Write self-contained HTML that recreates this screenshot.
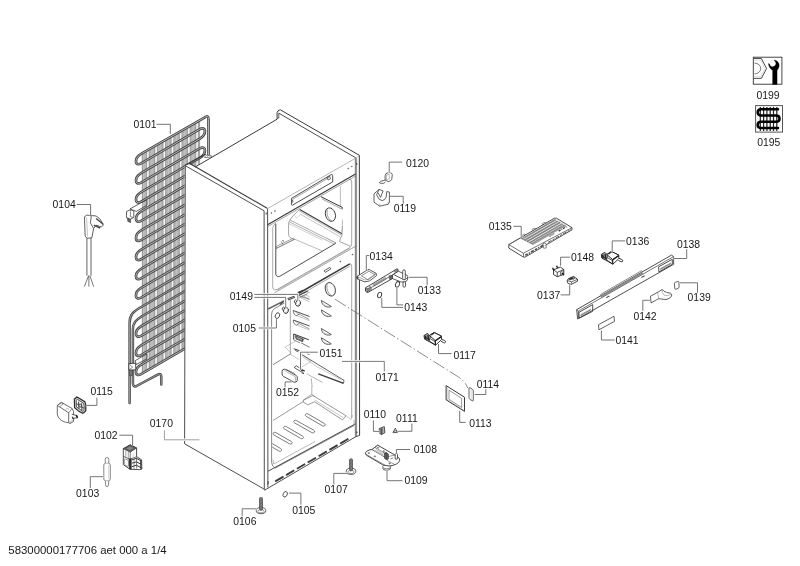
<!DOCTYPE html>
<html><head><meta charset="utf-8"><title>0101</title>
<style>
html,body{margin:0;padding:0;background:#fff;}
svg{display:block;font-family:"Liberation Sans",sans-serif;filter:grayscale(1);}
</style></head><body>
<svg width="800" height="566" viewBox="0 0 800 566">
<rect width="800" height="566" fill="#fff"/>
<g id="condenser">
<path d="M142.3 153.1 L199.6 119.7 L199.6 340.1 L142.3 373.5 Z" fill="#b4b4b4" stroke="#3a3a3a" stroke-width="0" />
<line x1="147.9" y1="148.9" x2="147.9" y2="371.2" stroke="#f8f8f8" stroke-width="2.0"/>
<line x1="156.1" y1="144.1" x2="156.1" y2="366.4" stroke="#f8f8f8" stroke-width="2.0"/>
<line x1="164.3" y1="139.3" x2="164.3" y2="361.6" stroke="#f8f8f8" stroke-width="2.0"/>
<line x1="172.5" y1="134.5" x2="172.5" y2="356.9" stroke="#f8f8f8" stroke-width="2.0"/>
<line x1="180.7" y1="129.7" x2="180.7" y2="352.1" stroke="#f8f8f8" stroke-width="2.0"/>
<line x1="188.9" y1="125.0" x2="188.9" y2="347.3" stroke="#f8f8f8" stroke-width="2.0"/>
<line x1="197.1" y1="120.2" x2="197.1" y2="342.5" stroke="#f8f8f8" stroke-width="2.0"/>
<line x1="143.8" y1="152.3" x2="143.8" y2="372.6" stroke="#c6c6c6" stroke-width="1.0"/>
<line x1="152.0" y1="147.5" x2="152.0" y2="367.8" stroke="#c6c6c6" stroke-width="1.0"/>
<line x1="160.2" y1="142.7" x2="160.2" y2="363.0" stroke="#c6c6c6" stroke-width="1.0"/>
<line x1="168.4" y1="137.9" x2="168.4" y2="358.2" stroke="#c6c6c6" stroke-width="1.0"/>
<line x1="176.6" y1="133.1" x2="176.6" y2="353.5" stroke="#c6c6c6" stroke-width="1.0"/>
<line x1="184.8" y1="128.3" x2="184.8" y2="348.7" stroke="#c6c6c6" stroke-width="1.0"/>
<line x1="193.0" y1="123.6" x2="193.0" y2="343.9" stroke="#c6c6c6" stroke-width="1.0"/>
<line x1="146.7" y1="150.6" x2="146.7" y2="370.9" stroke="#808080" stroke-width="0.5"/>
<line x1="149.2" y1="149.1" x2="149.2" y2="369.5" stroke="#808080" stroke-width="0.5"/>
<line x1="154.8" y1="145.8" x2="154.8" y2="366.1" stroke="#808080" stroke-width="0.5"/>
<line x1="157.3" y1="144.4" x2="157.3" y2="364.7" stroke="#808080" stroke-width="0.5"/>
<line x1="163.0" y1="141.0" x2="163.0" y2="361.4" stroke="#808080" stroke-width="0.5"/>
<line x1="165.5" y1="139.6" x2="165.5" y2="359.9" stroke="#808080" stroke-width="0.5"/>
<line x1="171.2" y1="136.2" x2="171.2" y2="356.6" stroke="#808080" stroke-width="0.5"/>
<line x1="173.7" y1="134.8" x2="173.7" y2="355.1" stroke="#808080" stroke-width="0.5"/>
<line x1="179.4" y1="131.5" x2="179.4" y2="351.8" stroke="#808080" stroke-width="0.5"/>
<line x1="181.9" y1="130.0" x2="181.9" y2="350.3" stroke="#808080" stroke-width="0.5"/>
<line x1="187.6" y1="126.7" x2="187.6" y2="347.0" stroke="#808080" stroke-width="0.5"/>
<line x1="190.1" y1="125.2" x2="190.1" y2="345.6" stroke="#808080" stroke-width="0.5"/>
<line x1="195.8" y1="121.9" x2="195.8" y2="342.2" stroke="#808080" stroke-width="0.5"/>
<line x1="198.3" y1="120.4" x2="198.3" y2="340.8" stroke="#808080" stroke-width="0.5"/>
<line x1="142.3" y1="153.1" x2="142.3" y2="373.5" stroke="#666" stroke-width="0.6"/>
<line x1="199.6" y1="119.7" x2="199.6" y2="340.1" stroke="#777" stroke-width="0.5"/>
<path d="M208.5 154.6 L208.5 119.5 Q208.5 114.2 204.5 117.6 L141.5 153.6 C134.1 157.8 134.1 167.4 141.5 163.2 L199.4 129.4 C206.8 125.2 206.8 134.8 199.4 139.0 L141.5 172.8 C134.1 177.0 134.1 186.5 141.5 182.3 L199.4 148.6 C206.8 144.4 206.8 154.0 199.4 158.2 L141.5 191.9 C134.1 196.1 134.1 205.7 141.5 201.5 L199.4 167.7 C206.8 163.5 206.8 173.1 199.4 177.3 L141.5 211.1 C134.1 215.3 134.1 224.9 141.5 220.7 L199.4 186.9 C206.8 182.7 206.8 192.3 199.4 196.5 L141.5 230.2 C134.1 234.4 134.1 244.0 141.5 239.8 L199.4 206.1 C206.8 201.9 206.8 211.4 199.4 215.6 L141.5 249.4 C134.1 253.6 134.1 263.2 141.5 259.0 L199.4 225.2 C206.8 221.0 206.8 230.6 199.4 234.8 L141.5 268.6 C134.1 272.8 134.1 282.3 141.5 278.1 L199.4 244.4 C206.8 240.2 206.8 249.8 199.4 254.0 L141.5 287.7 C134.1 291.9 134.1 301.5 141.5 297.3 L199.4 263.5 " fill="none" stroke="#484848" stroke-width="2.7" stroke-linecap="round" stroke-linejoin="round"/>
<path d="M208.5 154.6 L208.5 119.5 Q208.5 114.2 204.5 117.6 L141.5 153.6 C134.1 157.8 134.1 167.4 141.5 163.2 L199.4 129.4 C206.8 125.2 206.8 134.8 199.4 139.0 L141.5 172.8 C134.1 177.0 134.1 186.5 141.5 182.3 L199.4 148.6 C206.8 144.4 206.8 154.0 199.4 158.2 L141.5 191.9 C134.1 196.1 134.1 205.7 141.5 201.5 L199.4 167.7 C206.8 163.5 206.8 173.1 199.4 177.3 L141.5 211.1 C134.1 215.3 134.1 224.9 141.5 220.7 L199.4 186.9 C206.8 182.7 206.8 192.3 199.4 196.5 L141.5 230.2 C134.1 234.4 134.1 244.0 141.5 239.8 L199.4 206.1 C206.8 201.9 206.8 211.4 199.4 215.6 L141.5 249.4 C134.1 253.6 134.1 263.2 141.5 259.0 L199.4 225.2 C206.8 221.0 206.8 230.6 199.4 234.8 L141.5 268.6 C134.1 272.8 134.1 282.3 141.5 278.1 L199.4 244.4 C206.8 240.2 206.8 249.8 199.4 254.0 L141.5 287.7 C134.1 291.9 134.1 301.5 141.5 297.3 L199.4 263.5 " fill="none" stroke="#c4c4c4" stroke-width="0.8500000000000001" stroke-linecap="round" stroke-linejoin="round"/>
<path d="M199.4 273.1 L139.5 308.0 C133 312.0 129.6 315.0 129.6 323.0 L129.6 403" fill="none" stroke="#484848" stroke-width="2.5" stroke-linecap="round" stroke-linejoin="round"/>
<path d="M199.4 273.1 L139.5 308.0 C133 312.0 129.6 315.0 129.6 323.0 L129.6 403" fill="none" stroke="#c4c4c4" stroke-width="0.6499999999999999" stroke-linecap="round" stroke-linejoin="round"/>
<path d="M199.4 282.7 L141.5 316.5 C136 320.0 132.9 322.5 132.9 329.5 L132.9 383 Q132.9 387.5 136.5 386 L157.8 374.6 Q161.3 372.8 161.3 377 L161.3 384.5" fill="none" stroke="#484848" stroke-width="2.5" stroke-linecap="round" stroke-linejoin="round"/>
<path d="M199.4 282.7 L141.5 316.5 C136 320.0 132.9 322.5 132.9 329.5 L132.9 383 Q132.9 387.5 136.5 386 L157.8 374.6 Q161.3 372.8 161.3 377 L161.3 384.5" fill="none" stroke="#c4c4c4" stroke-width="0.6499999999999999" stroke-linecap="round" stroke-linejoin="round"/>
<path d="M199.4 292.3 L141.5 326.0 C134.1 330.2 134.1 339.8 141.5 335.6 L199.4 301.9" fill="none" stroke="#484848" stroke-width="2.7" stroke-linecap="round" stroke-linejoin="round"/>
<path d="M199.4 292.3 L141.5 326.0 C134.1 330.2 134.1 339.8 141.5 335.6 L199.4 301.9" fill="none" stroke="#c4c4c4" stroke-width="0.8500000000000001" stroke-linecap="round" stroke-linejoin="round"/>
<path d="M199.4 311.4 L141.5 345.2 C134.1 349.4 134.1 359.0 141.5 354.8 L199.4 321.0" fill="none" stroke="#484848" stroke-width="2.7" stroke-linecap="round" stroke-linejoin="round"/>
<path d="M199.4 311.4 L141.5 345.2 C134.1 349.4 134.1 359.0 141.5 354.8 L199.4 321.0" fill="none" stroke="#c4c4c4" stroke-width="0.8500000000000001" stroke-linecap="round" stroke-linejoin="round"/>
<path d="M199.4 330.6 L141.5 364.4 C134.1 368.6 134.1 378.1 141.5 373.9 L199.4 340.2" fill="none" stroke="#484848" stroke-width="2.7" stroke-linecap="round" stroke-linejoin="round"/>
<path d="M199.4 330.6 L141.5 364.4 C134.1 368.6 134.1 378.1 141.5 373.9 L199.4 340.2" fill="none" stroke="#c4c4c4" stroke-width="0.8500000000000001" stroke-linecap="round" stroke-linejoin="round"/>
<path d="M130.0 208.9 L142.2 202.2 L142.2 207.9 L136.3 211.4 Z" fill="#fff" stroke="#3a3a3a" stroke-width="0" />
<path d="M130.0 208.9 L147.0 199.5 L147.0 205.1 L136.3 211.4 Z" fill="none" stroke="#3a3a3a" stroke-width="0.8" />
<path d="M126.5 211.5 L130.6 209.6 L133.8 211.2 L133.8 217.5 L129.6 219.6 L126.5 217.8 Z" fill="#fff" stroke="#3a3a3a" stroke-width="0.8" />
<path d="M127.6 217.8 L130.6 219.2 L130.6 222.6 L127.8 221.4 Z" fill="#666" stroke="#3a3a3a" stroke-width="0.6" />
<path d="M130.4 209.8 L130.4 216.5 L133.6 217.6" fill="none" stroke="#3a3a3a" stroke-width="0.6" />
<path d="M135.1 360.7 L142.2 356.6 L142.2 361.4 L136.3 364.5 Z" fill="#fff" stroke="#3a3a3a" stroke-width="0" />
<path d="M135.1 360.7 L147.0 353.8 L147.0 358.8 L136.3 364.5 Z" fill="none" stroke="#3a3a3a" stroke-width="0.8" />
<path d="M128.8 363.6 L135.6 363.2 L135.8 369.8 L128.9 370.2 Z" fill="#fff" stroke="#3a3a3a" stroke-width="0.9" />
<path d="M129.2 364.0 L132.6 367.2 L129.2 369.8" fill="none" stroke="#3a3a3a" stroke-width="0.6" />
<path d="M129.5 370.3 L132.4 370.3 L132.4 375.6 L129.5 375.6 Z" fill="#777" stroke="#3a3a3a" stroke-width="0.6" />
</g>
<defs><clipPath id="cl"><rect x="272.2" y="400" width="90" height="70"/></clipPath></defs>
<g id="cabinet">
<path d="M184.7 165.6 L189.9 164.2 L195.2 166.8 L212.0 156.8 L277.1 118.8 L277.1 111.5 L280.0 109.8 L359.4 155.3 L359.6 435.4 L264.6 490.2 L184.6 443.8 Z" fill="#fff" stroke="#3a3a3a" stroke-width="0" />
<path d="M204.3 157.4 L206.4 155.2 L208.6 155.4 L207.4 157.6 Z" fill="#fff" stroke="#3a3a3a" stroke-width="0.6" />
<path d="M208.6 155.4 L211.2 155.4 L212.0 156.8 L207.4 157.6" fill="#fff" stroke="#3a3a3a" stroke-width="0.6" />
<path d="M189.9 164.2 L202.8 157.0" fill="none" stroke="#555" stroke-width="0.7" />
<path d="M185.3 165.7 L264.1 210.8 L264.3 489.2 L184.6 443.8 Z" fill="none" stroke="#3a3a3a" stroke-width="0.9" />
<path d="M189.4 163.2 L267.2 208.3" fill="none" stroke="#3a3a3a" stroke-width="1.1" />
<path d="M184.7 165.5 L205.8 154.0" fill="none" stroke="#3a3a3a" stroke-width="1.1" />
<path d="M195.2 167.0 L277.1 119.2" fill="none" stroke="#3a3a3a" stroke-width="1.0" />
<path d="M277.1 119 L277.1 112.5 Q277.3 110.6 280.3 109.8 L359.35 155.3 L359.6 435.4" fill="none" stroke="#3a3a3a" stroke-width="1.0" />
<path d="M278.8 113.2 L355.9 157.9" fill="none" stroke="#3a3a3a" stroke-width="0.9" />
<path d="M278.8 113.2 L278.8 118.0" fill="none" stroke="#3a3a3a" stroke-width="0.8" />
<path d="M277.1 118.8 L279.0 117.8" fill="none" stroke="#3a3a3a" stroke-width="0.7" />
<line x1="355.9" y1="157.9" x2="355.9" y2="436.4" stroke="#969696" stroke-width="1.7"/>
<line x1="355.2" y1="158.2" x2="355.2" y2="436.4" stroke="#5a5a5a" stroke-width="0.4"/>
<line x1="356.7" y1="158.2" x2="356.7" y2="436.2" stroke="#666" stroke-width="0.4"/>
<path d="M355.9 157.9 L359.2 155.9" fill="none" stroke="#999" stroke-width="0.5" />
<path d="M267.5 208.6 L355.1 158.5" fill="none" stroke="#777" stroke-width="0.55" />
<line x1="267.6" y1="208.6" x2="267.9" y2="487.5" stroke="#3a3a3a" stroke-width="0.9"/>
<path d="M264.3 489.3 L264.6 490.2 L355.9 436.6 L359.6 435.4" fill="none" stroke="#3a3a3a" stroke-width="0.9" />
<path d="M267.6 224.8 L355.5 174.1" fill="none" stroke="#3a3a3a" stroke-width="1.1" />
<path d="M267.6 226.7 L355.5 176.0" fill="none" stroke="#666" stroke-width="0.6" />
<path d="M291.5 198.4 L331.2 174.6 Q332.6 174.2 332.7 175.6 L332.7 181.9 L292.4 205.2 Q291.5 205.4 291.4 204.3 Z" fill="none" stroke="#3a3a3a" stroke-width="0.9" />
<path d="M292.4 199.5 L329.6 177.2" fill="none" stroke="#666" stroke-width="0.6" />
<path d="M326.8 177.4 L329.8 176.4 L330.6 178.8 L328.0 180.0 Z" fill="none" stroke="#3a3a3a" stroke-width="0.7" />
<path d="M291.9 200.2 L293.0 200.8 L293.0 202.2 L291.9 201.8" fill="none" stroke="#3a3a3a" stroke-width="0.7" />
<ellipse cx="271.4" cy="213.0" rx="0.6" ry="0.5" transform="rotate(0 271.4 213.0)" fill="#666" stroke="#666" stroke-width="0.5"/>
<ellipse cx="274.9" cy="211.0" rx="0.6" ry="0.5" transform="rotate(0 274.9 211.0)" fill="#666" stroke="#666" stroke-width="0.5"/>
<ellipse cx="348.2" cy="168.4" rx="0.6" ry="0.5" transform="rotate(0 348.2 168.4)" fill="#666" stroke="#666" stroke-width="0.5"/>
<ellipse cx="351.8" cy="166.4" rx="0.6" ry="0.5" transform="rotate(0 351.8 166.4)" fill="#666" stroke="#666" stroke-width="0.5"/>
<line x1="266.2" y1="212.5" x2="266.2" y2="214.5" stroke="#3a3a3a" stroke-width="1.0"/>
<line x1="356.7" y1="163.0" x2="356.7" y2="164.8" stroke="#3a3a3a" stroke-width="1.1"/>
<path d="M272.7 287 L272.7 228 Q272.8 225.4 275.8 223.4" fill="none" stroke="#777" stroke-width="0.6" />
<path d="M275.8 223.6 L275.8 274.6" fill="none" stroke="#3a3a3a" stroke-width="0.9" />
<path d="M349 179.4 Q351.6 178.8 351.7 182 L351.7 243.5 Q351.6 246.4 349.4 247.9 L277.4 289.3 Q273.4 291.2 272.7 287" fill="none" stroke="#666" stroke-width="0.6" />
<path d="M299.7 209.5 L342.0 233.7" fill="none" stroke="#3a3a3a" stroke-width="1.1" />
<path d="M299.3 211.0 L341.7 235.2" fill="none" stroke="#777" stroke-width="0.5" />
<path d="M299.8 213.9 L340.5 237.0" fill="none" stroke="#888" stroke-width="0.5" />
<path d="M342.0 233.7 L342.1 235.2 L340.5 238.2 L339.5 241.5 L350.0 246.1" fill="none" stroke="#666" stroke-width="0.6" />
<path d="M290.1 220.1 L335.5 242.8" fill="none" stroke="#666" stroke-width="0.55" />
<path d="M289.4 221.9 L334.5 244.3" fill="none" stroke="#777" stroke-width="0.55" />
<path d="M288.9 223.6 L322.4 240.2" fill="none" stroke="#999" stroke-width="0.45" />
<path d="M299.7 209.5 C294 214.5 289 219.5 288.6 224 L288.6 234.5 Q288.8 238.4 294.7 239.2" fill="none" stroke="#666" stroke-width="0.6" />
<path d="M294.2 214.6 L296.4 217.9 L300.2 215.1" fill="none" stroke="#aaa" stroke-width="0.4" />
<path d="M294.7 239.2 L276.0 248.5" fill="none" stroke="#3a3a3a" stroke-width="0.7" />
<path d="M293.4 238.2 L276.8 246.1 L276.0 248.5" fill="none" stroke="#666" stroke-width="0.6" />
<path d="M281.1 241.5 L283.1 244.5" fill="none" stroke="#3a3a3a" stroke-width="0.6" />
<path d="M282.3 240.4 L284.1 241.3" fill="none" stroke="#3a3a3a" stroke-width="0.8" />
<path d="M294.7 239.2 L321.9 250.8" fill="none" stroke="#777" stroke-width="0.5" />
<path d="M335.6 242.6 Q336 243.6 334.6 244 L279.8 276.3 Q276.6 277.4 275.8 274.4" fill="none" stroke="#3a3a3a" stroke-width="0.9" />
<path d="M335.5 242.8 L326.4 237.7" fill="none" stroke="#999" stroke-width="0.4" />
<path d="M321.0 196.7 L342.3 207.4" fill="none" stroke="#3a3a3a" stroke-width="1.0" />
<path d="M322.0 198.9 L341.5 208.9" fill="none" stroke="#666" stroke-width="0.6" />
<path d="M342.3 207.1 L342.3 209.1 L341.5 208.9" fill="none" stroke="#3a3a3a" stroke-width="0.7" />
<path d="M340.4 186.3 L340.4 206.1" fill="none" stroke="#777" stroke-width="0.5" />
<path d="M342.4 219.6 L342.4 233.4" fill="none" stroke="#777" stroke-width="0.5" />
<path d="M340.6 233 Q342.6 230 342.4 226" fill="none" stroke="#777" stroke-width="0.5" />
<ellipse cx="330.4" cy="214.6" rx="4.9" ry="6.9" transform="rotate(-18 330.4 214.6)" fill="none" stroke="#3a3a3a" stroke-width="0.9"/>
<path d="M327.4 209.8 C326.2 213 327.6 218.6 331.6 221" fill="none" stroke="#555" stroke-width="0.6" />
<path d="M274.5 292.8 L355.5 246.3" fill="none" stroke="#666" stroke-width="0.6" />
<path d="M277.1 290.2 L349.8 248.3" fill="none" stroke="#888" stroke-width="0.5" />
<path d="M324.1 270.8 L329.8 267.4 L330.8 268.9 L325.4 272.4 Z" fill="none" stroke="#3a3a3a" stroke-width="0.8" />
<ellipse cx="340.4" cy="261.4" rx="0.6" ry="0.5" transform="rotate(0 340.4 261.4)" fill="#555" stroke="#555" stroke-width="0.4"/>
<ellipse cx="352.6" cy="254.5" rx="0.6" ry="0.5" transform="rotate(0 352.6 254.5)" fill="#555" stroke="#555" stroke-width="0.4"/>
<path d="M298.4 293.5 L349.8 263.9" fill="none" stroke="#3a3a3a" stroke-width="1.5" />
<path d="M299.6 295.3 L349.8 266.2" fill="none" stroke="#666" stroke-width="0.6" />
<path d="M349.8 263.9 Q351.6 263.6 351.7 266 L351.7 418" fill="none" stroke="#666" stroke-width="0.6" />
<path d="M268.1 309.0 L284.0 300.9" fill="none" stroke="#666" stroke-width="1.5" />
<path d="M271.6 462 L271.6 314 Q271.8 310.4 274.4 308.6 L284.4 303" fill="none" stroke="#555" stroke-width="0.7" />
<path d="M290.3 299.3 L290.3 354.2" fill="none" stroke="#666" stroke-width="0.6" />
<path d="M298.5 295.5 L307.6 291.0" fill="none" stroke="#3a3a3a" stroke-width="1.3" />
<path d="M299.3 297.8 L307.6 293.7" fill="none" stroke="#3a3a3a" stroke-width="0.6" />
<path d="M300.0 294.0 L309.1 299.3" fill="none" stroke="#777" stroke-width="0.5" />
<path d="M301.5 292.5 L309.8 297.0" fill="none" stroke="#777" stroke-width="0.5" />
<ellipse cx="330.3" cy="289.3" rx="4.9" ry="6.9" transform="rotate(-18 330.3 289.3)" fill="none" stroke="#3a3a3a" stroke-width="0.9"/>
<path d="M327.3 284.5 C326.1 287.7 327.5 293.3 331.5 295.7" fill="none" stroke="#555" stroke-width="0.6" />
<path d="M293.3 310.5 L309.6 316.5" fill="none" stroke="#3a3a3a" stroke-width="0.9" />
<path d="M293.3 310.5 C293.1 313.2 294.6 315.5 296.8 315.7 L299.0 314.1" fill="none" stroke="#3a3a3a" stroke-width="0.7" />
<path d="M299.0 314.1 L309.2 319.4" fill="none" stroke="#555" stroke-width="0.6" />
<path d="M297.3 315.8 L309.6 320.7" fill="none" stroke="#888" stroke-width="0.5" />
<path d="M295.0 311.7 L299.0 314.1" fill="none" stroke="#777" stroke-width="0.5" />
<path d="M293.3 320.0 L309.6 326.0" fill="none" stroke="#3a3a3a" stroke-width="0.9" />
<path d="M293.3 320.0 C293.1 322.7 294.6 325.0 296.8 325.1 L299.0 323.5" fill="none" stroke="#3a3a3a" stroke-width="0.7" />
<path d="M299.0 323.5 L309.2 328.8" fill="none" stroke="#555" stroke-width="0.6" />
<path d="M297.3 325.3 L309.6 330.2" fill="none" stroke="#888" stroke-width="0.5" />
<path d="M295.0 321.2 L299.0 323.5" fill="none" stroke="#777" stroke-width="0.5" />
<path d="M299.0 295.8 L309.6 299.3" fill="none" stroke="#555" stroke-width="0.7" />
<path d="M300.4 297.8 L309.6 301.7" fill="none" stroke="#888" stroke-width="0.5" />
<path d="M297.7 292.5 L303.2 290.2" fill="none" stroke="#3a3a3a" stroke-width="1.2" />
<path d="M303.2 290.2 L309.6 292.8" fill="none" stroke="#555" stroke-width="0.6" />
<path d="M287.5 298.6 L294.6 296.2" fill="none" stroke="#3a3a3a" stroke-width="1.0" />
<path d="M288.0 299.9 L295.0 297.4" fill="none" stroke="#3a3a3a" stroke-width="1.0" />
<path d="M280.0 304.6 L283.7 301.1" fill="none" stroke="#555" stroke-width="1.6" />
<ellipse cx="295.9" cy="301.7" rx="1.5" ry="1.8" transform="rotate(-20 295.9 301.7)" fill="#fff" stroke="#3a3a3a" stroke-width="0.8"/>
<ellipse cx="298.1" cy="303.3" rx="2.4" ry="3.0" transform="rotate(20 298.1 303.3)" fill="#fff" stroke="#3a3a3a" stroke-width="0.9"/>
<path d="M296.9 305.7 Q299.9 305.5 300.1 301.9" fill="none" stroke="#888" stroke-width="0.5" />
<ellipse cx="283.8" cy="308.9" rx="1.5" ry="1.8" transform="rotate(-20 283.8 308.9)" fill="#fff" stroke="#3a3a3a" stroke-width="0.8"/>
<ellipse cx="286.0" cy="310.5" rx="2.4" ry="3.0" transform="rotate(20 286.0 310.5)" fill="#fff" stroke="#3a3a3a" stroke-width="0.9"/>
<path d="M284.8 312.9 Q287.8 312.7 288.0 309.1" fill="none" stroke="#888" stroke-width="0.5" />
<ellipse cx="277.4" cy="315.6" rx="2.1" ry="3.0" transform="rotate(25 277.4 315.6)" fill="#fff" stroke="#3a3a3a" stroke-width="0.8"/>
<path d="M293.7 339.6 L293.7 334.0 L308.8 339.8" fill="none" stroke="#3a3a3a" stroke-width="1.0" />
<path d="M295.2 335.5 L303.2 338.9 L302.8 341.7 L296.0 338.9 Z" fill="#666" stroke="#333" stroke-width="0.6" />
<path d="M296.4 336.6 L302.0 339.1 L301.8 340.5 L296.8 338.5 Z" fill="#bbb" stroke="#555" stroke-width="0.4" />
<path d="M293.7 339.9 L300.2 342.9" fill="none" stroke="#3a3a3a" stroke-width="0.6" />
<path d="M301.2 342.9 L309.5 347.3" fill="none" stroke="#3a3a3a" stroke-width="0.7" />
<path d="M303.2 340.1 L304.7 338.1" fill="none" stroke="#3a3a3a" stroke-width="0.6" />
<path d="M285.1 347.1 L296.0 340.7" fill="none" stroke="#888" stroke-width="0.45" />
<path d="M285.1 347.1 L291.7 353.8" fill="none" stroke="#888" stroke-width="0.45" />
<path d="M273.0 364.7 L290.1 354.2" fill="none" stroke="#555" stroke-width="0.7" />
<path d="M290.1 354.2 L300.2 360.2" fill="none" stroke="#888" stroke-width="0.45" />
<path d="M302.2 366.8 L310.8 361.7 L303.7 355.4" fill="none" stroke="#888" stroke-width="0.45" />
<path d="M293.7 348.7 L299.4 350.7" fill="none" stroke="#3a3a3a" stroke-width="1.0" />
<path d="M295.2 350.4 L298.4 351.8" fill="none" stroke="#3a3a3a" stroke-width="0.8" />
<path d="M306.8 353.7 L309.8 354.8" fill="none" stroke="#3a3a3a" stroke-width="0.6" />
<path d="M321.4 300.4 L331.3 306.5 C328.3 308.1 321.6 306.6 321.4 300.4 Z" fill="none" stroke="#3a3a3a" stroke-width="0.8" />
<path d="M322.0 302.0 C322.8 304.4 327.3 306.9 330.3 306.7" fill="none" stroke="#999" stroke-width="0.4" />
<path d="M321.4 309.9 L331.3 315.9 C328.3 317.5 321.6 316.1 321.4 309.9 Z" fill="none" stroke="#3a3a3a" stroke-width="0.8" />
<path d="M322.0 311.5 C322.8 313.9 327.3 316.3 330.3 316.1" fill="none" stroke="#999" stroke-width="0.4" />
<path d="M321.4 328.5 L331.3 334.5 C328.3 336.1 321.6 334.7 321.4 328.5 Z" fill="none" stroke="#3a3a3a" stroke-width="0.8" />
<path d="M322.0 330.1 C322.8 332.5 327.3 334.9 330.3 334.7" fill="none" stroke="#999" stroke-width="0.4" />
<path d="M321.4 337.8 L331.3 343.8 C328.3 345.4 321.6 344.0 321.4 337.8 Z" fill="none" stroke="#3a3a3a" stroke-width="0.8" />
<path d="M322.0 339.4 C322.8 341.8 327.3 344.2 330.3 344.0" fill="none" stroke="#999" stroke-width="0.4" />
<path d="M301.2 354.2 L344.0 380.4 L343.5 383.4 L341.7 382.8" fill="none" stroke="#3a3a3a" stroke-width="0.8" />
<path d="M318.3 373.8 L343.0 383.1" fill="none" stroke="#3a3a3a" stroke-width="1.3" />
<path d="M317.3 366.9 L340.7 379.5" fill="none" stroke="#888" stroke-width="0.45" />
<path d="M302.2 356.4 L317.3 366.9" fill="none" stroke="#888" stroke-width="0.45" />
<path d="M294.2 367.5 L296.2 365.8 L303.4 370.3 L301.4 371.9 Z" fill="#fff" stroke="#3a3a3a" stroke-width="0.8" />
<path d="M301.0 370.1 L304.8 370.9" fill="none" stroke="#3a3a3a" stroke-width="1.3" />
<path d="M301.7 372.7 L304.0 373.4" fill="none" stroke="#3a3a3a" stroke-width="1.1" />
<path d="M306.8 373.8 L322.4 382.4" fill="none" stroke="#666" stroke-width="0.5" />
<path d="M311.3 378.3 L312.1 387.0" fill="none" stroke="#666" stroke-width="0.5" />
<path d="M311.8 386.5 L311.8 394.3 L303.3 400.0" fill="none" stroke="#666" stroke-width="0.5" />
<path d="M311.8 394.3 L315.4 397.0" fill="none" stroke="#666" stroke-width="0.5" />
<path d="M282.1 371.2 Q282 369.6 284.2 369.2 L285.6 369.4 L296.4 375.6 Q297.4 376.4 297.3 378 L297.2 380.6 Q296.6 382.6 294.2 382.3 L283.4 376.4 Q282.2 375.6 282.1 374 Z" fill="#fff" stroke="#3a3a3a" stroke-width="0.9" />
<path d="M284.6 370.6 L295.4 376.8 L295.4 381.6" fill="none" stroke="#666" stroke-width="0.5" />
<path d="M286.0 369.8 L287.0 369.2 L288.2 370.6 L289.2 370.0 L290.4 371.8 L291.4 371.2 L292.6 373.0 L293.6 372.4 L294.8 374.2" fill="none" stroke="#555" stroke-width="0.5" />
<path d="M303.3 400.3 L312.8 395.5 L315.4 397.0 L346.1 415.8 L342.4 419.9 L314.8 401.8 L307.6 404.8 L303.3 402.1 Z" fill="none" stroke="#555" stroke-width="0.6" />
<path d="M314.8 400.0 L343.6 417.8" fill="none" stroke="#888" stroke-width="0.45" />
<path d="M303.3 401.5 L273.0 420.5" fill="none" stroke="#555" stroke-width="0.6" />
<path d="M346.1 415.8 L351.1 419.6 L352.6 415.1" fill="none" stroke="#888" stroke-width="0.45" />
<path d="M306.3 416.4 L322.4 425.8 C324.5 427.0 326.3 424.6 324.2 423.4 L308.1 414.0 C306.0 412.8 304.2 415.2 306.3 416.4 Z" fill="none" stroke="#444" stroke-width="0.7" clip-path="url(#cl)"/>
<path d="M294.7 423.0 L311.9 432.6 C314.0 433.7 315.8 431.4 313.7 430.2 L296.5 420.6 C294.4 419.5 292.6 421.8 294.7 423.0 Z" fill="none" stroke="#444" stroke-width="0.7" clip-path="url(#cl)"/>
<path d="M284.5 429.0 L300.7 438.4 C302.8 439.6 304.6 437.2 302.5 436.0 L286.3 426.6 C284.2 425.4 282.4 427.8 284.5 429.0 Z" fill="none" stroke="#444" stroke-width="0.7" clip-path="url(#cl)"/>
<path d="M274.0 435.0 L289.4 443.8 C291.5 445.0 293.3 442.6 291.2 441.4 L275.8 432.6 C273.7 431.4 271.9 433.8 274.0 435.0 Z" fill="none" stroke="#444" stroke-width="0.7" clip-path="url(#cl)"/>
<path d="M270.1 445.8 L278.9 451.0 C281.0 452.2 282.8 449.9 280.7 448.6 L271.9 443.4 C269.8 442.2 268.0 444.5 270.1 445.8 Z" fill="none" stroke="#444" stroke-width="0.7" clip-path="url(#cl)"/>
<path d="M271.6 462 Q271.8 466.6 275.2 468.4" fill="none" stroke="#555" stroke-width="0.7" />
<path d="M275.0 468.2 L354.0 425.5" fill="none" stroke="#555" stroke-width="0.7" />
<path d="M273.0 459.5 L273.8 464.0 L315.0 441.5" fill="none" stroke="#777" stroke-width="0.5" />
<path d="M268.0 471.2 L355.5 423.8" fill="none" stroke="#3a3a3a" stroke-width="0.9" />
<path d="M354.0 425.5 L354.0 420.0" fill="none" stroke="#777" stroke-width="0.5" />
<line x1="275.2" y1="481.4" x2="283.5" y2="476.6" stroke="#3c3c3c" stroke-width="1.9"/>
<line x1="286.1" y1="475.1" x2="294.3" y2="470.3" stroke="#3c3c3c" stroke-width="1.9"/>
<line x1="296.9" y1="468.8" x2="305.1" y2="464.0" stroke="#3c3c3c" stroke-width="1.9"/>
<line x1="307.7" y1="462.5" x2="316.0" y2="457.7" stroke="#3c3c3c" stroke-width="1.9"/>
<line x1="318.6" y1="456.2" x2="326.8" y2="451.4" stroke="#3c3c3c" stroke-width="1.9"/>
<line x1="329.4" y1="449.9" x2="337.6" y2="445.1" stroke="#3c3c3c" stroke-width="1.9"/>
<line x1="340.2" y1="443.6" x2="348.4" y2="438.8" stroke="#3c3c3c" stroke-width="1.9"/>
<line x1="268.1" y1="481.2" x2="268.1" y2="484.4" stroke="#3a3a3a" stroke-width="1.0"/>
<line x1="356.8" y1="431.4" x2="356.8" y2="433.2" stroke="#3a3a3a" stroke-width="1.1"/>
</g>
<g id="parts">
<path d="M84.4 216.8 L86.9 215.1 L91.1 215.5 L91.1 218.5 L90.3 222.7 L93.6 228.6 L91.9 237.8 L86.9 238.3 L85.2 236.1 Z" fill="#fff" stroke="#3a3a3a" stroke-width="0.8" />
<path d="M91.1 215.5 L96.1 216.0 L100.3 219.3 L103.4 225.2 L101.2 226.9 L96.1 225.2 L93.6 228.6" fill="none" stroke="#3a3a3a" stroke-width="0.8" />
<path d="M96.1 218.5 L103.2 224.2" fill="none" stroke="#444" stroke-width="1.4" />
<path d="M93.8 225.2 L100.2 228.0" fill="none" stroke="#444" stroke-width="1.4" />
<path d="M86.6 217.5 L87.5 236.5" fill="none" stroke="#888" stroke-width="0.5" />
<line x1="86.9" y1="238.3" x2="86.9" y2="275.6" stroke="#3a3a3a" stroke-width="0.8"/>
<line x1="91.0" y1="238.0" x2="91.0" y2="275.6" stroke="#3a3a3a" stroke-width="0.8"/>
<line x1="88.6" y1="275.6" x2="84.4" y2="286.6" stroke="#3a3a3a" stroke-width="0.7"/>
<line x1="88.9" y1="275.6" x2="88.9" y2="286.6" stroke="#3a3a3a" stroke-width="0.7"/>
<line x1="89.9" y1="275.6" x2="93.6" y2="286.6" stroke="#3a3a3a" stroke-width="0.7"/>
<path d="M57.3 405.4 L61.3 402.3 L72.1 408.5 L73.6 411.6 L73.6 421.4 L69.9 423.6 L68.7 422.7" fill="#fff" stroke="#444" stroke-width="0.8" />
<path d="M57.3 405.4 L68.7 412.8 L68.7 422.7 C63.5 422.4 58 419.4 57.3 414 Z" fill="#fff" stroke="#444" stroke-width="0.8" />
<path d="M68.7 412.8 L72.1 408.5" fill="none" stroke="#555" stroke-width="0.7" />
<path d="M58.2 404.8 L61.9 402.8 L63.5 403.7 L59.8 406.6" fill="none" stroke="#555" stroke-width="0.6" />
<path d="M65.6 409.6 L67.2 408.4 L69.2 409.6" fill="none" stroke="#777" stroke-width="0.5" />
<path d="M71.8 414.2 L77.2 415.6 L77.6 417.8 L72.4 418.4" fill="#fff" stroke="#333" stroke-width="0.8" />
<path d="M76.0 415.2 L77.6 417.8" fill="none" stroke="#222" stroke-width="1.4" />
<path d="M72.2 416.8 L73.6 419.2" fill="none" stroke="#333" stroke-width="1.2" />
<path d="M69.9 423.6 L70.2 421.6 L73.6 419.8" fill="none" stroke="#777" stroke-width="0.5" />
<path d="M74.3 399.2 L76.7 397.0 L79.2 398.3 L84.8 401.7 L86.0 405.4 L85.7 410.9 L82.9 413.4 L79.2 411.6 L74.6 407.8 Z" fill="#d0d0d0" stroke="#2a2a2a" stroke-width="1.2" />
<path d="M76.2 400.4 L77.4 399.4 L83.4 403.2 L84.2 406.0 L84.0 409.8 L82.6 411.2 L76.4 406.8 Z" fill="#fff" stroke="#333" stroke-width="0.8" />
<path d="M78.6 401.6 L79.0 408.4" fill="none" stroke="#333" stroke-width="1.0" />
<path d="M81.6 403.4 L82.0 410.4" fill="none" stroke="#333" stroke-width="1.0" />
<path d="M76.4 403.6 L84.0 408.2" fill="none" stroke="#333" stroke-width="0.9" />
<ellipse cx="80.2" cy="405.6" rx="1.2" ry="1.5" transform="rotate(0 80.2 405.6)" fill="#fff" stroke="#222" stroke-width="0.8"/>
<path d="M123.3 448.7 L130.2 444.9 L136.6 448.0 L136.6 456.7 L141.6 459.8 L141.9 469.1 L139.7 469.7 L131.4 469.3 L129.8 469.1 L123.3 464.7 Z" fill="#fff" stroke="#3a3a3a" stroke-width="0.9" />
<path d="M123.3 448.7 L130.2 444.9 L136.6 448.0 L130.2 452.1 Z" fill="#6a6a6a" stroke="#3a3a3a" stroke-width="0.8" />
<path d="M125.6 448.4 L130.2 446.0 L134.4 448.0 L130.2 450.6 Z" fill="#888" stroke="#444" stroke-width="0.5" />
<path d="M130.2 452.1 L130.2 459.2 L136.6 456.7" fill="none" stroke="#3a3a3a" stroke-width="0.7" />
<path d="M123.3 456.4 L129.0 458.8" fill="none" stroke="#3a3a3a" stroke-width="0.8" />
<path d="M125.8 450.6 L125.8 456.8" fill="none" stroke="#666" stroke-width="0.6" />
<path d="M128.3 452.0 L128.3 458.2" fill="none" stroke="#666" stroke-width="0.6" />
<path d="M124.4 459.6 Q124.4 458.6 125.4 459 L127.6 460 Q128.4 460.4 128.4 461.4 L128.4 465.6 Q128.4 466.6 127.4 466.2 L125.2 465 Q124.4 464.6 124.4 463.6 Z" fill="none" stroke="#555" stroke-width="0.6" />
<path d="M128.9 458.8 L131.4 458.6 L131.4 469.4 L129.2 469.0 Z" fill="#2a2a2a" stroke="#3a3a3a" stroke-width="0.5" />
<path d="M133.2 453.6 L133.2 457.8" fill="none" stroke="#999" stroke-width="0.4" />
<path d="M132.0 459.8 L136.4 458.4 L141.4 461.0" fill="none" stroke="#333" stroke-width="1.0" />
<path d="M132.0 463.2 L136.4 461.8 L141.4 464.4" fill="none" stroke="#333" stroke-width="1.0" />
<path d="M132.0 466.6 L136.4 465.2 L141.4 467.8" fill="none" stroke="#333" stroke-width="1.0" />
<line x1="140.7" y1="460.0" x2="140.9" y2="469.0" stroke="#333" stroke-width="1.1"/>
<line x1="136.5" y1="457.4" x2="136.7" y2="468.6" stroke="#444" stroke-width="0.7"/>
<line x1="134.0" y1="458.4" x2="134.1" y2="469.0" stroke="#555" stroke-width="0.6"/>
<path d="M105.4 463.2 L105.2 459.4 Q105.2 457.6 107 457.6 Q108.9 457.6 108.9 459.4 L108.7 463.2 Q110.3 463.6 110.3 465 L110.3 479 Q110.3 480.4 108.7 480.8 L108.5 484.8 Q108.4 486.6 107 486.6 Q105.7 486.6 105.6 484.8 L105.4 480.8 Q103.8 480.4 103.8 479 L103.8 465 Q103.8 463.6 105.4 463.2 Z" fill="#fff" stroke="#555" stroke-width="0.7" />
<line x1="105.4" y1="463.3" x2="108.7" y2="463.3" stroke="#777" stroke-width="0.5"/>
<line x1="105.4" y1="480.7" x2="108.7" y2="480.7" stroke="#777" stroke-width="0.5"/>
<line x1="108.6" y1="465.0" x2="108.6" y2="479.0" stroke="#999" stroke-width="0.4"/>
<ellipse cx="261.0" cy="510.6" rx="4.8" ry="3.1" transform="rotate(0 261.0 510.6)" fill="#fff" stroke="#3a3a3a" stroke-width="0.8"/>
<ellipse cx="261.0" cy="511.3" rx="3.2" ry="1.6" transform="rotate(0 261.0 511.3)" fill="none" stroke="#555" stroke-width="0.6"/>
<rect x="259.5" y="497.4" width="3.0" height="12.8" rx="1.2" fill="#8c8c8c" stroke="#444" stroke-width="0.7"/>
<line x1="259.6" y1="499.0" x2="262.4" y2="499.5" stroke="#444" stroke-width="0.45"/>
<line x1="259.6" y1="500.4" x2="262.4" y2="500.9" stroke="#444" stroke-width="0.45"/>
<line x1="259.6" y1="501.9" x2="262.4" y2="502.4" stroke="#444" stroke-width="0.45"/>
<line x1="259.6" y1="503.3" x2="262.4" y2="503.8" stroke="#444" stroke-width="0.45"/>
<line x1="259.6" y1="504.8" x2="262.4" y2="505.3" stroke="#444" stroke-width="0.45"/>
<line x1="259.6" y1="506.2" x2="262.4" y2="506.7" stroke="#444" stroke-width="0.45"/>
<line x1="259.6" y1="507.7" x2="262.4" y2="508.2" stroke="#444" stroke-width="0.45"/>
<line x1="259.6" y1="509.1" x2="262.4" y2="509.6" stroke="#444" stroke-width="0.45"/>
<ellipse cx="351.0" cy="471.3" rx="4.8" ry="3.1" transform="rotate(0 351.0 471.3)" fill="#fff" stroke="#3a3a3a" stroke-width="0.8"/>
<ellipse cx="351.0" cy="472.0" rx="3.2" ry="1.6" transform="rotate(0 351.0 472.0)" fill="none" stroke="#555" stroke-width="0.6"/>
<rect x="349.5" y="458.8" width="3.0" height="12.1" rx="1.2" fill="#8c8c8c" stroke="#444" stroke-width="0.7"/>
<line x1="349.6" y1="460.4" x2="352.4" y2="460.9" stroke="#444" stroke-width="0.45"/>
<line x1="349.6" y1="461.9" x2="352.4" y2="462.4" stroke="#444" stroke-width="0.45"/>
<line x1="349.6" y1="463.3" x2="352.4" y2="463.8" stroke="#444" stroke-width="0.45"/>
<line x1="349.6" y1="464.8" x2="352.4" y2="465.2" stroke="#444" stroke-width="0.45"/>
<line x1="349.6" y1="466.2" x2="352.4" y2="466.7" stroke="#444" stroke-width="0.45"/>
<line x1="349.6" y1="467.6" x2="352.4" y2="468.1" stroke="#444" stroke-width="0.45"/>
<line x1="349.6" y1="469.1" x2="352.4" y2="469.6" stroke="#444" stroke-width="0.45"/>
<ellipse cx="285.2" cy="494.3" rx="2.0" ry="2.9" transform="rotate(25 285.2 494.3)" fill="none" stroke="#3a3a3a" stroke-width="0.8"/>
<ellipse cx="386.7" cy="468.0" rx="4.0" ry="2.3" transform="rotate(0 386.7 468.0)" fill="#fff" stroke="#3a3a3a" stroke-width="0.8"/>
<ellipse cx="386.7" cy="466.6" rx="4.0" ry="2.2" transform="rotate(0 386.7 466.6)" fill="#fff" stroke="#3a3a3a" stroke-width="0.6"/>
<path d="M365.4 452.9 L366.4 451.4 L369.6 449.8 L371.9 449.6 L377.6 445.1 L394.7 454.9 Q400.2 457.4 399.6 460.6 Q398.6 464.4 390 466 L384.4 465.4 L382.4 464.6 L366.4 455.2 Z" fill="#fff" stroke="#333" stroke-width="0.9" />
<path d="M372.1 449.6 L386.4 458.0" fill="none" stroke="#333" stroke-width="0.8" />
<path d="M374.9 447.5 L385.1 453.4" fill="none" stroke="#555" stroke-width="0.6" />
<path d="M369.5 449.9 L372.1 449.6 L377.8 445.3" fill="none" stroke="#666" stroke-width="0.5" />
<path d="M366.1 454.3 L382.4 463.7 L385.4 465.0" fill="none" stroke="#555" stroke-width="0.6" />
<path d="M374.3 450.4 L383.2 455.5" fill="none" stroke="#b0b0b0" stroke-width="1.6" />
<path d="M375.9 449.5 L384.2 454.2" fill="none" stroke="#888" stroke-width="0.5" />
<path d="M386.4 458.0 L389.9 456.1 L394.7 455.2" fill="none" stroke="#555" stroke-width="0.6" />
<path d="M386.4 458.2 L387.4 460.6 L394.4 464.4" fill="none" stroke="#555" stroke-width="0.6" />
<path d="M390.5 459.0 L393.1 457.8" fill="none" stroke="#555" stroke-width="0.7" />
<ellipse cx="368.9" cy="453.1" rx="0.8" ry="0.6" transform="rotate(0 368.9 453.1)" fill="#bbb" stroke="#444" stroke-width="0.5"/>
<ellipse cx="374.9" cy="456.4" rx="0.8" ry="0.6" transform="rotate(0 374.9 456.4)" fill="#bbb" stroke="#444" stroke-width="0.5"/>
<ellipse cx="378.1" cy="447.7" rx="0.8" ry="0.6" transform="rotate(0 378.1 447.7)" fill="#bbb" stroke="#444" stroke-width="0.5"/>
<ellipse cx="383.7" cy="451.2" rx="0.8" ry="0.6" transform="rotate(0 383.7 451.2)" fill="#bbb" stroke="#444" stroke-width="0.5"/>
<ellipse cx="389.6" cy="463.4" rx="0.8" ry="0.6" transform="rotate(0 389.6 463.4)" fill="#bbb" stroke="#444" stroke-width="0.5"/>
<path d="M384.5 453.1 L386.2 452.5 L388.3 453.9 L388.3 459.0 L386.2 459.4 L384.7 458.5 Z" fill="#6a6a6a" stroke="#2a2a2a" stroke-width="0.7" />
<path d="M386.2 452.8 L386.2 459.2" fill="none" stroke="#222" stroke-width="0.6" />
<rect x="395.2" y="453.4" width="2.3" height="5.8" rx="1.1" fill="#fff" stroke="#333" stroke-width="0.8"/>
<path d="M394.6 458.6 Q396.4 460.6 398.2 458.4" fill="none" stroke="#666" stroke-width="0.5" />
<path d="M379.3 428.6 L384.3 426.6 L384.9 432.7 L381.2 434.8 L379.3 432.7 Z" fill="#888" stroke="#3a3a3a" stroke-width="0.8" />
<path d="M381.4 428.6 L381.4 434.4" fill="none" stroke="#3a3a3a" stroke-width="0.8" />
<path d="M383.4 427.2 L383.6 433.2" fill="none" stroke="#ddd" stroke-width="0.5" />
<path d="M392.9 432.6 L395.3 428.2 L397.7 432.6 Z" fill="#fff" stroke="#3a3a3a" stroke-width="0.8" />
<ellipse cx="395.3" cy="431.4" rx="1.1" ry="0.9" transform="rotate(0 395.3 431.4)" fill="none" stroke="#3a3a3a" stroke-width="0.6"/>
<path d="M386 173.5 L389.4 172.4 Q392 172.8 392.3 174.6 L391.7 179.6 Q391 181.2 388.3 181.6 L385.1 180.1 L385.1 175.8 Z" fill="#fff" stroke="#3a3a3a" stroke-width="0.8" />
<path d="M386.4 175.2 L389.2 174.2 L389.4 178.8 L386.6 180.0 Z" fill="none" stroke="#777" stroke-width="0.5" />
<path d="M385.1 180.1 L380.4 181.4 Q379.2 182 379.8 183 Q380.6 183.8 383.9 183.2 L385.4 182" fill="none" stroke="#3a3a3a" stroke-width="0.8" />
<path d="M374 193.8 L374 202.2 L379.7 206.2 L388.3 204.2 L389.4 202.4 L389.4 192.1 L386.8 191.5 L386.2 197 Q385.4 200.2 382 200.6 Q378.4 200.2 376.6 194.6 L379.1 189.4 L383.1 190.9 L380.6 197.4 L378.2 192.8" fill="none" stroke="#3a3a3a" stroke-width="0.8" stroke-linejoin="round"/>
<path d="M374.0 193.8 L379.1 189.4" fill="none" stroke="#3a3a3a" stroke-width="0.8" />
<path d="M379.7 206.2 L379.9 203.4" fill="none" stroke="#777" stroke-width="0.5" />
<path d="M388.3 204.2 L388.1 201.8" fill="none" stroke="#777" stroke-width="0.5" />
<path d="M357.0 276.4 L367.4 269.9 L369.2 269.3 L370.3 270.2 L376.2 273.3 L376.5 275.7 L369.6 280.9 L364.6 281.9 L357.4 278.9 Z" fill="#fff" stroke="#333" stroke-width="0.8" />
<path d="M361.4 275.8 L368.9 271.2 L374.8 274.7 L367.5 279.5 Z" fill="none" stroke="#444" stroke-width="0.6" />
<path d="M357.0 276.6 L364.8 280.0 L369.4 279.2 L376.3 273.8" fill="none" stroke="#666" stroke-width="0.5" />
<path d="M367.4 269.9 L368.6 271.2" fill="none" stroke="#666" stroke-width="0.5" />
<path d="M375.0 272.8 L374.8 274.7" fill="none" stroke="#666" stroke-width="0.5" />
<ellipse cx="357.5" cy="277.7" rx="0.8" ry="1.2" transform="rotate(0 357.5 277.7)" fill="#555" stroke="#3a3a3a" stroke-width="0.5"/>
<path d="M393 274.2 L402.4 279 Q406 280 407.4 278 Q408.2 276.6 407.2 275.4 L398.4 271.2 L392.4 274.6 L392.3 278.5 L401.2 282 Q405.6 282.4 407 280.6 Q408 279.2 407.8 277.4" fill="#fff" stroke="#333" stroke-width="0.8" />
<path d="M365.5 287.8 L396.8 269.0 L398.0 269.4 L398.0 271.4 L392.3 275.0 L392.3 278.6 L367.6 292.6 L365.5 291.2 Z" fill="#fff" stroke="#333" stroke-width="0.9" />
<path d="M365.5 287.8 L367.8 289.2 L371.3 287.4 L392.3 275.0" fill="none" stroke="#333" stroke-width="0.7" />
<path d="M367.8 289.2 L367.6 292.6" fill="none" stroke="#333" stroke-width="0.7" />
<path d="M368.9 285.9 L371.3 287.4 L371.3 290.6" fill="none" stroke="#444" stroke-width="0.6" />
<path d="M373.1 285.7 L386.1 278.2" fill="none" stroke="#9a9a9a" stroke-width="1.5" />
<path d="M372.4 284.9 L385.6 277.3" fill="none" stroke="#555" stroke-width="0.5" />
<path d="M373.7 286.5 L386.5 279.0" fill="none" stroke="#555" stroke-width="0.5" />
<path d="M366.5 289.1 L370.3 287.3 L370.3 290.2 L366.9 291.7 Z" fill="#8a8a8a" stroke="#444" stroke-width="0.5" />
<path d="M389.2 275.7 L392.3 275.4 L392.3 278.8 L389.4 279.3 Z" fill="#6a6a6a" stroke="#333" stroke-width="0.5" />
<path d="M394.4 270.2 L397.5 268.9 L397.7 270.8 L394.7 272.3 Z" fill="#999" stroke="#444" stroke-width="0.5" />
<rect x="402.7" y="269.8" width="2.6" height="10" rx="1.3" fill="#fff" stroke="#333" stroke-width="0.8"/>
<rect x="403" y="281.8" width="2.5" height="5.4" rx="1.2" fill="#fff" stroke="#333" stroke-width="0.8"/>
<ellipse cx="379.6" cy="295.0" rx="1.9" ry="2.9" transform="rotate(22 379.6 295.0)" fill="none" stroke="#3a3a3a" stroke-width="0.9"/>
<ellipse cx="397.5" cy="284.4" rx="1.9" ry="2.9" transform="rotate(22 397.5 284.4)" fill="none" stroke="#3a3a3a" stroke-width="0.9"/>
<path d="M508.8 244.6 L554.4 218.2 L556.5 218.2 L572.0 227.7 L572.0 229.8 L524.7 257.3 L522.6 256.6 L508.8 248.1 Z" fill="#fff" stroke="#3a3a3a" stroke-width="0.9" />
<path d="M508.8 244.6 L523.4 253.2 L572.0 227.7" fill="none" stroke="#3a3a3a" stroke-width="0.7" />
<path d="M523.4 253.2 L523.6 257.0" fill="none" stroke="#3a3a3a" stroke-width="0.7" />
<path d="M521.8 238.8 L555.5 219.4" fill="none" stroke="#8a8a8a" stroke-width="1.25" />
<path d="M522.6 239.3 L556.3 219.8" fill="none" stroke="#444" stroke-width="0.45" />
<path d="M524.3 240.1 L557.8 220.7" fill="none" stroke="#8a8a8a" stroke-width="1.25" />
<path d="M525.1 240.5 L558.6 221.2" fill="none" stroke="#444" stroke-width="0.45" />
<path d="M526.8 241.4 L560.1 222.1" fill="none" stroke="#8a8a8a" stroke-width="1.25" />
<path d="M527.6 241.8 L560.9 222.6" fill="none" stroke="#444" stroke-width="0.45" />
<path d="M529.3 242.7 L562.5 223.5" fill="none" stroke="#8a8a8a" stroke-width="1.25" />
<path d="M530.1 243.1 L563.3 224.0" fill="none" stroke="#444" stroke-width="0.45" />
<path d="M531.4 243.8 L564.5 224.7" fill="none" stroke="#8a8a8a" stroke-width="1.25" />
<path d="M532.3 244.3 L565.3 225.2" fill="none" stroke="#444" stroke-width="0.45" />
<path d="M520.6 238.1 L532.9 244.3" fill="none" stroke="#555" stroke-width="0.6" />
<path d="M508.8 244.6 L520.3 238.0 L521.6 238.2" fill="none" stroke="#555" stroke-width="0.5" />
<path d="M533.2 244.5 L566.0 225.5" fill="none" stroke="#555" stroke-width="0.5" />
<path d="M532.7 230.8 L532.1 229.4 L534.0 228.4 L536.3 228.7" fill="none" stroke="#444" stroke-width="0.6" />
<path d="M542.8 225.0 L542.2 223.6 L544.1 222.5 L546.4 222.9" fill="none" stroke="#444" stroke-width="0.6" />
<path d="M522.3 236.5 L522.0 235.3 L523.9 234.2 L525.9 234.4" fill="none" stroke="#444" stroke-width="0.6" />
<path d="M549.5 236.4 L554.1 233.8" fill="none" stroke="#444" stroke-width="1.1" stroke-dasharray="1.4 0.8"/>
<path d="M558.7 231.1 L566.5 226.6" fill="none" stroke="#3a3a3a" stroke-width="1.3" stroke-dasharray="2.2 0.9 1 0.9"/>
<path d="M525.4 255.2 L545.0 244.2" fill="none" stroke="#4a4a4a" stroke-width="1.6" stroke-dasharray="2.6 1.3 1.2 1.1 3.4 1.2"/>
<path d="M548.0 242.4 L571.2 229.4" fill="none" stroke="#555" stroke-width="1.0" stroke-dasharray="4 1.4 2 1.2"/>
<ellipse cx="544.6" cy="244.6" rx="1.7" ry="1.5" transform="rotate(0 544.6 244.6)" fill="#fff" stroke="#3a3a3a" stroke-width="0.7"/>
<path d="M543.2 245.8 L543.6 248.2 L546.2 248.0 L546.2 245.4" fill="#fff" stroke="#3a3a3a" stroke-width="0.6" />
<path d="M553.5 269.8 L560.3 267.1 L563.8 269.5 L563.8 274.3 L557.4 276.7 L553.5 274.6 Z" fill="#fff" stroke="#2a2a2a" stroke-width="0.9" />
<path d="M553.5 269.8 L557.2 272.4 L563.8 269.5" fill="none" stroke="#2a2a2a" stroke-width="0.8" />
<path d="M557.2 272.4 L557.4 276.7" fill="none" stroke="#2a2a2a" stroke-width="0.8" />
<path d="M560.4 271.8 L563.4 270.6 L563.4 274.0 L560.6 275.2 Z" fill="#fff" stroke="#222" stroke-width="0.6" />
<path d="M561.6 272.8 L563.6 274.6 L563.4 275.4" fill="none" stroke="#111" stroke-width="1.2" />
<path d="M552.1 268.5 L554.3 269.9" fill="none" stroke="#222" stroke-width="1.3" />
<path d="M556.1 266.3 L558.0 267.7" fill="none" stroke="#222" stroke-width="1.2" />
<path d="M552.6 267.6 L554.4 268.8" fill="none" stroke="#222" stroke-width="0.5" />
<path d="M556.6 265.6 L558.4 266.8" fill="none" stroke="#222" stroke-width="0.5" />
<path d="M568.3 278.8 L573.6 276.4 L577.5 279.3 L577.5 281.2 L570.9 284.6 L567.5 282.8 L567.2 280.6 Z" fill="#fff" stroke="#2a2a2a" stroke-width="0.9" />
<path d="M567.4 280.4 L571.5 281.9 L577.5 279.3" fill="none" stroke="#2a2a2a" stroke-width="0.7" />
<path d="M571.5 281.9 L571.0 284.4" fill="none" stroke="#333" stroke-width="0.6" />
<path d="M568.6 278.9 L572.4 277.2 L573.4 278.4 L570.2 280.0 Z" fill="#333" stroke="#222" stroke-width="0.5" />
<path d="M573.6 276.6 L574.4 278.6 L572.6 279.6" fill="none" stroke="#222" stroke-width="0.8" />
<path d="M601.3 254.5 L604.9 252.5 L606.8 254.5 L611.5 251.5 L618.8 255.2 L618.8 258.7 L612.8 264.2 L607.5 261.2 L601.9 258.1 Z" fill="#fff" stroke="#222" stroke-width="0.9" />
<path d="M601.3 254.5 L604.9 252.5 L607.9 255.7 L606.7 260.1 L601.9 258.1 Z" fill="#8a8a8a" stroke="#222" stroke-width="0.6" />
<path d="M602.7 254.9 L603.1 258.1" fill="none" stroke="#222" stroke-width="1.3" />
<path d="M605.1 253.7 L605.9 259.1" fill="none" stroke="#222" stroke-width="1.2" />
<path d="M601.5 256.1 L606.9 258.5" fill="none" stroke="#222" stroke-width="0.9" />
<path d="M602.9 254.3 L605.1 253.3 L606.3 254.5" fill="none" stroke="#ccc" stroke-width="0.5" />
<path d="M606.8 254.5 L611.5 251.5 L618.8 255.2 L612.5 259.5 Z" fill="#fff" stroke="#222" stroke-width="1.0" />
<path d="M608.3 254.1 L611.5 252.1" fill="none" stroke="#222" stroke-width="1.1" />
<path d="M612.5 259.5 L612.8 264.2" fill="none" stroke="#222" stroke-width="1.3" />
<path d="M606.7 260.1 L612.6 263.9" fill="none" stroke="#222" stroke-width="0.9" />
<path d="M607.9 257.9 L612.5 260.7" fill="none" stroke="#333" stroke-width="0.8" />
<path d="M612.5 259.9 L618.8 255.8" fill="none" stroke="#222" stroke-width="1.2" />
<path d="M618.7 258.3 L621.9 259.5 Q623.1 260.1 622.7 261.3 Q622.1 262.3 620.9 261.7 L618.3 260.3" fill="#fff" stroke="#222" stroke-width="0.9" />
<path d="M576.7 309.6 L671.5 255.1 L673.6 256.6 L673.7 264.3 L577.6 318.9 Z" fill="#fff" stroke="#3a3a3a" stroke-width="0.9" />
<path d="M578.4 311.0 L673.6 256.6" fill="none" stroke="#3a3a3a" stroke-width="0.7" />
<path d="M576.7 309.6 L578.4 311.0 L578.6 318.2" fill="none" stroke="#3a3a3a" stroke-width="0.7" />
<path d="M600.2 295.4 L601.2 294.0 L641.4 270.8 L642.6 271.4" fill="none" stroke="#3a3a3a" stroke-width="0.6" />
<path d="M600.6 296.6 L642.6 272.6" fill="none" stroke="#8a8a8a" stroke-width="1.3" />
<path d="M600.8 297.6 L642.8 273.6" fill="none" stroke="#555" stroke-width="0.5" />
<path d="M578.9 312.4 L592.7 304.6 L592.7 311.3 L579.2 318.2 Z" fill="none" stroke="#3a3a3a" stroke-width="0.9" />
<path d="M580.6 314.8 L590.6 309.2 L590.6 310.2 L580.8 315.8 Z" fill="#999" stroke="#555" stroke-width="0.4" />
<path d="M658.6 266.8 L672.3 259.3 L672.3 264.3 L658.9 271.9 Z" fill="none" stroke="#3a3a3a" stroke-width="0.9" />
<path d="M660.4 268.6 L670.6 263.0 L670.6 264.0 L660.6 269.6 Z" fill="#999" stroke="#555" stroke-width="0.4" />
<path d="M606.2 297.8 L609.4 296.0" fill="none" stroke="#555" stroke-width="1.2" />
<path d="M641.4 277.6 L644.6 275.8" fill="none" stroke="#555" stroke-width="1.2" />
<path d="M674.4 283.6 Q674.4 282.6 675.4 282.3 L677.8 281.4 Q678.8 281.2 678.9 282.2 L679.1 287 Q679 288 678.2 288.3 L675.8 289.3 Q674.9 289.5 674.8 288.5 Z" fill="none" stroke="#3a3a3a" stroke-width="0.8" />
<path d="M650.5 296.2 L658.1 292.0 L658.6 298.7 L651.0 302.9 Z" fill="#fff" stroke="#3a3a3a" stroke-width="0.8" />
<path d="M658.1 292 L662.3 289.5 Q663.6 291.6 666.6 292.4 L670.4 293.2 Q672.2 293.8 671.6 296 Q670.6 298.6 666 299.6 L658.6 298.7" fill="#fff" stroke="#3a3a3a" stroke-width="0.8" />
<path d="M662.3 289.5 Q661.6 292.6 664 295.2 Q667 296.4 671.4 294.4" fill="none" stroke="#777" stroke-width="0.5" />
<path d="M598.5 324.7 L614.0 316.3 L614.5 321.4 L598.9 329.8 Z" fill="#fff" stroke="#3a3a3a" stroke-width="0.8" />
<path d="M424.1 335.5 L427.6 333.5 L429.5 335.5 L434.2 332.5 L441.5 336.2 L441.5 339.7 L435.5 345.2 L430.2 342.2 L424.6 339.1 Z" fill="#fff" stroke="#222" stroke-width="0.9" />
<path d="M424.1 335.5 L427.6 333.5 L430.6 336.7 L429.4 341.1 L424.6 339.1 Z" fill="#8a8a8a" stroke="#222" stroke-width="0.6" />
<path d="M425.4 335.9 L425.9 339.1" fill="none" stroke="#222" stroke-width="1.3" />
<path d="M427.9 334.7 L428.6 340.1" fill="none" stroke="#222" stroke-width="1.2" />
<path d="M424.2 337.1 L429.6 339.5" fill="none" stroke="#222" stroke-width="0.9" />
<path d="M425.6 335.3 L427.9 334.3 L429.1 335.5" fill="none" stroke="#ccc" stroke-width="0.5" />
<path d="M429.5 335.5 L434.2 332.5 L441.5 336.2 L435.2 340.5 Z" fill="#fff" stroke="#222" stroke-width="1.0" />
<path d="M431.1 335.1 L434.2 333.1" fill="none" stroke="#222" stroke-width="1.1" />
<path d="M435.2 340.5 L435.5 345.2" fill="none" stroke="#222" stroke-width="1.3" />
<path d="M429.4 341.1 L435.4 344.9" fill="none" stroke="#222" stroke-width="0.9" />
<path d="M430.6 338.9 L435.2 341.7" fill="none" stroke="#333" stroke-width="0.8" />
<path d="M435.2 340.9 L441.5 336.8" fill="none" stroke="#222" stroke-width="1.2" />
<path d="M441.4 339.3 L444.6 340.5 Q445.9 341.1 445.4 342.3 Q444.9 343.3 443.6 342.7 L441.1 341.3" fill="#fff" stroke="#222" stroke-width="0.9" />
<path d="M446.1 385.6 L464.5 397.2 L464.5 411.4 L446.1 399.8 Z" fill="#fff" stroke="#3a3a3a" stroke-width="1.0" />
<path d="M449.0 390.2 L461.6 398.4 L461.6 407.5 L449.0 399.4 Z" fill="none" stroke="#555" stroke-width="0.6" />
<path d="M447.0 386.4 L447.0 400.2" fill="none" stroke="#777" stroke-width="0.5" />
<path d="M446.6 399.4 L464.2 410.6" fill="none" stroke="#777" stroke-width="0.5" />
<path d="M469 388.6 Q469 387.2 470.2 387.9 L472.6 389.4 Q473.3 390 473.3 391 L473.3 400.2 Q473.2 401.4 472.2 400.8 L469.8 399.2 Q469 398.6 469 397.6 Z" fill="none" stroke="#3a3a3a" stroke-width="0.8" />
<line x1="471.2" y1="389.4" x2="471.2" y2="399.6" stroke="#999" stroke-width="0.4"/>
</g>
<g id="icons">
<rect x="753.3" y="57.2" width="28.6" height="27" fill="#fff" stroke="#333" stroke-width="0.9"/>
<path d="M753.6 58.5 L761.4 58.5 L766.6 68.5 L761.4 78.4 L753.6 78.4" fill="none" stroke="#3a3a3a" stroke-width="0.9" />
<path d="M753.6 60.2 L760.6 60.2 L764.8 68.5 L760.8 76.6 L753.6 76.6" fill="none" stroke="#aaa" stroke-width="0.4" />
<path d="M761.4 58.5 L763.0 62.4" fill="none" stroke="#777" stroke-width="0.5" />
<path d="M761.4 78.4 L762.8 75.2" fill="none" stroke="#777" stroke-width="0.5" />
<path d="M754.5 63.1 A6.3 5.4 0 0 1 754.5 73.9" fill="none" stroke="#555" stroke-width="0.8" />
<path d="M768.4 63.6 C768.6 65.4 769.4 67.6 770.8 69.1 C771.4 69.7 772 70 772.6 70.2 L772.6 84.4 L777.1 84.4 L777.1 70.2 C778.2 69 779.2 67.2 779.2 65.2 C779.2 62.6 777 60.2 773.8 60 C775.4 61.4 776.1 62.6 775.9 63.9 C775.6 65.4 774 66.6 772.3 66.7 C770.8 66.6 769.8 65.4 769.6 63.9 Z" fill="#000" stroke="#000" stroke-width="0.3" />
<rect x="755.6" y="105.6" width="26.9" height="26.5" fill="#fff" stroke="#555" stroke-width="1.0"/>
<line x1="760.3" y1="106.9" x2="760.3" y2="131.0" stroke="#2a2a2a" stroke-width="1.25"/>
<line x1="763.6" y1="106.9" x2="763.6" y2="131.0" stroke="#2a2a2a" stroke-width="1.25"/>
<line x1="766.9" y1="106.9" x2="766.9" y2="131.0" stroke="#2a2a2a" stroke-width="1.25"/>
<line x1="770.2" y1="106.9" x2="770.2" y2="131.0" stroke="#2a2a2a" stroke-width="1.25"/>
<line x1="773.5" y1="106.9" x2="773.5" y2="131.0" stroke="#2a2a2a" stroke-width="1.25"/>
<line x1="776.8" y1="106.9" x2="776.8" y2="131.0" stroke="#2a2a2a" stroke-width="1.25"/>
<path d="M778.0 109.2 L761.4 109.2 C756.4 109.2 756.4 115.5 761.4 115.5 L775.8 115.5 C780.8 115.5 780.8 121.8 775.8 121.8 L761.4 121.8 C756.4 121.8 756.4 128.1 761.4 128.1 L778.0 128.1" fill="none" stroke="#000" stroke-width="2.5" stroke-linecap="round"/>
</g>
<g id="leaders">
<path d="M156.5 124.3 L170.3 124.3 L170.3 133.9" fill="none" stroke="#fff" stroke-width="2.4" />
<path d="M156.5 124.3 L170.3 124.3 L170.3 133.9" fill="none" stroke="#5c5c5c" stroke-width="0.85" />
<path d="M76.8 204.5 L90.6 204.5 L90.6 215.2" fill="none" stroke="#fff" stroke-width="2.4" />
<path d="M76.8 204.5 L90.6 204.5 L90.6 215.2" fill="none" stroke="#5c5c5c" stroke-width="0.85" />
<path d="M96.9 397.6 L96.9 405.4 L86.2 405.4" fill="none" stroke="#fff" stroke-width="2.4" />
<path d="M96.9 397.6 L96.9 405.4 L86.2 405.4" fill="none" stroke="#5c5c5c" stroke-width="0.85" />
<path d="M119.4 435.2 L132.6 435.2 L132.6 445.3" fill="none" stroke="#fff" stroke-width="2.4" />
<path d="M119.4 435.2 L132.6 435.2 L132.6 445.3" fill="none" stroke="#5c5c5c" stroke-width="0.85" />
<path d="M90.3 488.0 L90.3 476.7 L103.4 476.7" fill="none" stroke="#fff" stroke-width="2.4" />
<path d="M90.3 488.0 L90.3 476.7 L103.4 476.7" fill="none" stroke="#5c5c5c" stroke-width="0.85" />
<path d="M242.2 516.3 L242.2 508.8 L256.3 508.8" fill="none" stroke="#fff" stroke-width="2.4" />
<path d="M242.2 516.3 L242.2 508.8 L256.3 508.8" fill="none" stroke="#5c5c5c" stroke-width="0.85" />
<path d="M289.0 493.1 L300.9 493.1 L300.9 504.7" fill="none" stroke="#fff" stroke-width="2.4" />
<path d="M289.0 493.1 L300.9 493.1 L300.9 504.7" fill="none" stroke="#5c5c5c" stroke-width="0.85" />
<path d="M333.8 484.4 L333.8 473.4 L346.9 473.4" fill="none" stroke="#fff" stroke-width="2.4" />
<path d="M333.8 484.4 L333.8 473.4 L346.9 473.4" fill="none" stroke="#5c5c5c" stroke-width="0.85" />
<path d="M402.5 480.7 L387.0 480.7 L387.0 470.4" fill="none" stroke="#fff" stroke-width="2.4" />
<path d="M402.5 480.7 L387.0 480.7 L387.0 470.4" fill="none" stroke="#5c5c5c" stroke-width="0.85" />
<path d="M410.0 449.5 L396.4 449.5 L396.4 453.4" fill="none" stroke="#fff" stroke-width="2.4" />
<path d="M410.0 449.5 L396.4 449.5 L396.4 453.4" fill="none" stroke="#5c5c5c" stroke-width="0.85" />
<path d="M373.4 420.4 L373.4 431.4 L379.7 431.4" fill="none" stroke="#fff" stroke-width="2.4" />
<path d="M373.4 420.4 L373.4 431.4 L379.7 431.4" fill="none" stroke="#5c5c5c" stroke-width="0.85" />
<path d="M411.9 423.6 L411.9 431.3 L397.5 431.3" fill="none" stroke="#fff" stroke-width="2.4" />
<path d="M411.9 423.6 L411.9 431.3 L397.5 431.3" fill="none" stroke="#5c5c5c" stroke-width="0.85" />
<path d="M369.4 255.6 L366.3 255.6 L366.3 270.3" fill="none" stroke="#fff" stroke-width="2.4" />
<path d="M369.4 255.6 L366.3 255.6 L366.3 270.3" fill="none" stroke="#5c5c5c" stroke-width="0.85" />
<path d="M408.8 277.3 L427.1 277.3 L427.1 285.3" fill="none" stroke="#fff" stroke-width="2.4" />
<path d="M408.8 277.3 L427.1 277.3 L427.1 285.3" fill="none" stroke="#5c5c5c" stroke-width="0.85" />
<path d="M403.2 307.4 L381.8 307.4 L381.8 297.9" fill="none" stroke="#fff" stroke-width="2.4" />
<path d="M403.2 307.4 L381.8 307.4 L381.8 297.9" fill="none" stroke="#5c5c5c" stroke-width="0.85" />
<path d="M403.2 304.9 L396.9 304.9 L396.9 287.8" fill="none" stroke="#fff" stroke-width="2.4" />
<path d="M403.2 304.9 L396.9 304.9 L396.9 287.8" fill="none" stroke="#5c5c5c" stroke-width="0.85" />
<path d="M258.9 328.0 L276.4 328.0 L276.4 319.2" fill="none" stroke="#fff" stroke-width="2.4" />
<path d="M258.9 328.0 L276.4 328.0 L276.4 319.2" fill="none" stroke="#5c5c5c" stroke-width="0.85" />
<path d="M254.3 294.4 L297.8 294.4 L297.8 301.0" fill="none" stroke="#fff" stroke-width="2.4" />
<path d="M254.3 294.4 L297.8 294.4 L297.8 301.0" fill="none" stroke="#5c5c5c" stroke-width="0.85" />
<path d="M254.3 297.4 L285.7 297.4 L285.7 307.4" fill="none" stroke="#fff" stroke-width="2.4" />
<path d="M254.3 297.4 L285.7 297.4 L285.7 307.4" fill="none" stroke="#5c5c5c" stroke-width="0.85" />
<path d="M402.1 162.1 L389.2 162.1 L389.2 173.0" fill="none" stroke="#fff" stroke-width="2.4" />
<path d="M402.1 162.1 L389.2 162.1 L389.2 173.0" fill="none" stroke="#5c5c5c" stroke-width="0.85" />
<path d="M390.0 196.3 L403.2 196.3 L403.2 203.8" fill="none" stroke="#fff" stroke-width="2.4" />
<path d="M390.0 196.3 L403.2 196.3 L403.2 203.8" fill="none" stroke="#5c5c5c" stroke-width="0.85" />
<path d="M513.4 226.3 L521.2 226.3 L521.2 237.6" fill="none" stroke="#fff" stroke-width="2.4" />
<path d="M513.4 226.3 L521.2 226.3 L521.2 237.6" fill="none" stroke="#5c5c5c" stroke-width="0.85" />
<path d="M570.1 257.2 L560.6 257.2 L560.6 265.7" fill="none" stroke="#fff" stroke-width="2.4" />
<path d="M570.1 257.2 L560.6 257.2 L560.6 265.7" fill="none" stroke="#5c5c5c" stroke-width="0.85" />
<path d="M560.6 294.9 L569.7 294.9 L569.7 284.6" fill="none" stroke="#fff" stroke-width="2.4" />
<path d="M560.6 294.9 L569.7 294.9 L569.7 284.6" fill="none" stroke="#5c5c5c" stroke-width="0.85" />
<path d="M438.5 344.0 L438.5 353.6 L451.6 353.6" fill="none" stroke="#fff" stroke-width="2.4" />
<path d="M438.5 344.0 L438.5 353.6 L451.6 353.6" fill="none" stroke="#5c5c5c" stroke-width="0.85" />
<path d="M485.8 389.2 L485.8 394.5 L474.8 394.5" fill="none" stroke="#fff" stroke-width="2.4" />
<path d="M485.8 389.2 L485.8 394.5 L474.8 394.5" fill="none" stroke="#5c5c5c" stroke-width="0.85" />
<path d="M465.7 422.4 L459.7 422.4 L459.7 410.8" fill="none" stroke="#fff" stroke-width="2.4" />
<path d="M465.7 422.4 L459.7 422.4 L459.7 410.8" fill="none" stroke="#5c5c5c" stroke-width="0.85" />
<path d="M625.2 240.9 L612.2 240.9 L612.2 251.4" fill="none" stroke="#fff" stroke-width="2.4" />
<path d="M625.2 240.9 L612.2 240.9 L612.2 251.4" fill="none" stroke="#5c5c5c" stroke-width="0.85" />
<path d="M686.7 249.2 L686.7 258.5 L673.6 258.5" fill="none" stroke="#fff" stroke-width="2.4" />
<path d="M686.7 249.2 L686.7 258.5 L673.6 258.5" fill="none" stroke="#5c5c5c" stroke-width="0.85" />
<path d="M680.0 282.8 L697.5 282.8 L697.5 292.8" fill="none" stroke="#fff" stroke-width="2.4" />
<path d="M680.0 282.8 L697.5 282.8 L697.5 292.8" fill="none" stroke="#5c5c5c" stroke-width="0.85" />
<path d="M642.8 310.9 L642.8 300.3 L649.8 300.3" fill="none" stroke="#fff" stroke-width="2.4" />
<path d="M642.8 310.9 L642.8 300.3 L649.8 300.3" fill="none" stroke="#5c5c5c" stroke-width="0.85" />
<path d="M614.7 340.0 L601.4 340.0 L601.4 330.5" fill="none" stroke="#fff" stroke-width="2.4" />
<path d="M614.7 340.0 L601.4 340.0 L601.4 330.5" fill="none" stroke="#5c5c5c" stroke-width="0.85" />
<path d="M317.8 352.2 L300.5 352.2 L300.5 369.8" fill="none" stroke="#fff" stroke-width="2.4" />
<path d="M317.8 352.2 L300.5 352.2 L300.5 369.8" fill="none" stroke="#5c5c5c" stroke-width="0.85" />
<path d="M285.1 387.3 L285.1 381.9 L291.7 381.9" fill="none" stroke="#fff" stroke-width="2.4" />
<path d="M285.1 387.3 L285.1 381.9 L291.7 381.9" fill="none" stroke="#5c5c5c" stroke-width="0.85" />
<path d="M164.4 430.3 L164.4 439.8 L199.5 439.8" fill="none" stroke="#fff" stroke-width="2.4" />
<path d="M164.4 430.3 L164.4 439.8 L199.5 439.8" fill="none" stroke="#a0a0a0" stroke-width="1.0" />
<path d="M342.0 361.4 L384.3 361.4 L384.3 371.5" fill="none" stroke="#fff" stroke-width="2.4" />
<path d="M342.0 361.4 L384.3 361.4 L384.3 371.5" fill="none" stroke="#666" stroke-width="0.85" />
<path d="M334.9 299.1 L457.7 376.5 Q465 381 467.8 388" fill="none" stroke="#5a5a5a" stroke-width="0.7" stroke-dasharray="13 2.5 1.4 2.5"/>
</g>
<g id="labels" fill="#151515" opacity="0.99">
<text x="133.4" y="128.2" font-size="10.4" text-anchor="start">0101</text>
<text x="52.6" y="208.0" font-size="10.4" text-anchor="start">0104</text>
<text x="90.4" y="395.1" font-size="10.4" text-anchor="start">0115</text>
<text x="94.5" y="439.0" font-size="10.4" text-anchor="start">0102</text>
<text x="76.1" y="496.8" font-size="10.4" text-anchor="start">0103</text>
<text x="149.8" y="427.0" font-size="10.4" text-anchor="start">0170</text>
<text x="233.3" y="524.8" font-size="10.4" text-anchor="start">0106</text>
<text x="292.2" y="513.6" font-size="10.4" text-anchor="start">0105</text>
<text x="324.6" y="492.8" font-size="10.4" text-anchor="start">0107</text>
<text x="404.4" y="483.8" font-size="10.4" text-anchor="start">0109</text>
<text x="413.8" y="453.3" font-size="10.4" text-anchor="start">0108</text>
<text x="363.8" y="418.1" font-size="10.4" text-anchor="start">0110</text>
<text x="396.1" y="421.8" font-size="10.4" text-anchor="start">0111</text>
<text x="469.2" y="427.0" font-size="10.4" text-anchor="start">0113</text>
<text x="476.8" y="387.6" font-size="10.4" text-anchor="start">0114</text>
<text x="453.5" y="359.0" font-size="10.4" text-anchor="start">0117</text>
<text x="375.6" y="380.8" font-size="10.4" text-anchor="start">0171</text>
<text x="319.4" y="357.0" font-size="10.4" text-anchor="start">0151</text>
<text x="276.0" y="395.6" font-size="10.4" text-anchor="start">0152</text>
<text x="232.8" y="332.2" font-size="10.4" text-anchor="start">0105</text>
<text x="229.8" y="299.9" font-size="10.4" text-anchor="start">0149</text>
<text x="369.6" y="259.8" font-size="10.4" text-anchor="start">0134</text>
<text x="417.8" y="294.4" font-size="10.4" text-anchor="start">0133</text>
<text x="404.2" y="310.6" font-size="10.4" text-anchor="start">0143</text>
<text x="405.9" y="166.6" font-size="10.4" text-anchor="start">0120</text>
<text x="393.8" y="211.8" font-size="10.4" text-anchor="start">0119</text>
<text x="488.7" y="230.1" font-size="10.4" text-anchor="start">0135</text>
<text x="570.9" y="261.1" font-size="10.4" text-anchor="start">0148</text>
<text x="537.1" y="298.6" font-size="10.4" text-anchor="start">0137</text>
<text x="626.1" y="245.1" font-size="10.4" text-anchor="start">0136</text>
<text x="677.0" y="247.6" font-size="10.4" text-anchor="start">0138</text>
<text x="687.6" y="301.0" font-size="10.4" text-anchor="start">0139</text>
<text x="633.4" y="319.7" font-size="10.4" text-anchor="start">0142</text>
<text x="615.4" y="343.8" font-size="10.4" text-anchor="start">0141</text>
<text x="756.4" y="99.0" font-size="10.4" text-anchor="start">0199</text>
<text x="757.2" y="145.9" font-size="10.4" text-anchor="start">0195</text>
</g>
<g fill="#151515" opacity="0.99">
<text x="8.3" y="553.7" font-size="11.4" text-anchor="start">58300000177706 aet 000 a 1/4</text>
</g>
</svg>
</body></html>
